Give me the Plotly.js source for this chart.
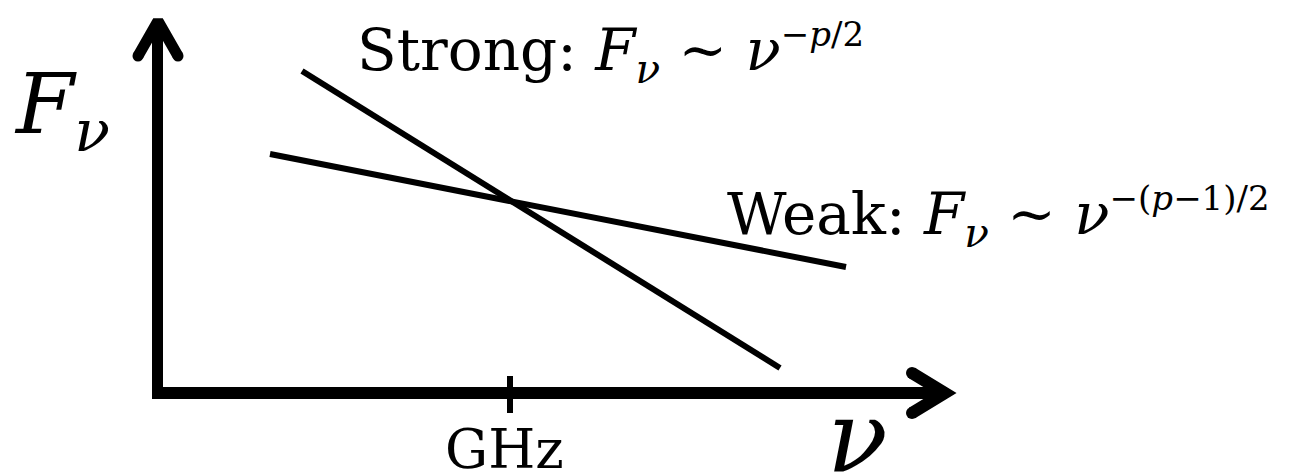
<!DOCTYPE html>
<html>
<head>
<meta charset="utf-8">
<script src="https://cdn.plot.ly/plotly-3.0.1.min.js"></script>
</head>
<body style="margin:0">
<div id="chart" style="width:1289px;height:474px"></div>
<script>
// Schematic spectrum (canvas units = page pixels, y downward)
const strongX = [302, 780];
const strongY = [71, 368];
const weakX = [270, 846];
const weakY = [154, 267];

const yAxisX = [157.5, 157.5];
const yAxisY = [399, 21];
const yHeadX = [138, 158, 178];
const yHeadY = [56, 21, 56];

const xAxisX = [152, 945];
const xAxisY = [393, 393];
const xHeadX = [912, 945, 912];
const xHeadY = [373, 393, 413];

const tickX = [510, 510];
const tickY = [376, 413];
const tickLabel = 'GHz';

const FONT = 'DejaVu Serif';
const black = '#000000';

function seg(x, y, w) {
  return {x: x, y: y, mode: 'lines', line: {color: black, width: w}, hoverinfo: 'skip', showlegend: false};
}
function caps(x, y, s) {
  return {x: x, y: y, mode: 'markers', marker: {color: black, size: s, line: {width: 0}}, hoverinfo: 'skip', showlegend: false};
}

const traces = [
  seg(yAxisX, yAxisY, 11),
  seg(yHeadX, yHeadY, 11),
  caps([yHeadX[0], yHeadX[2]], [yHeadY[0], yHeadY[2]], 11),
  seg(xAxisX, xAxisY, 12),
  seg(xHeadX, xHeadY, 12),
  caps([xHeadX[0], xHeadX[2]], [xHeadY[0], xHeadY[2]], 12),
  seg(tickX, tickY, 6),
  seg(strongX, strongY, 6),
  seg(weakX, weakY, 6)
];

const layout = {
  width: 1289, height: 474,
  margin: {l: 0, r: 0, t: 0, b: 0},
  paper_bgcolor: '#ffffff', plot_bgcolor: '#ffffff',
  xaxis: {range: [0, 1289], visible: false, fixedrange: true},
  yaxis: {range: [474, 0], visible: false, fixedrange: true},
  showlegend: false,
  annotations: [
    {x: 355, y: 53, xref: 'x', yref: 'y', xanchor: 'left', yanchor: 'middle', showarrow: false,
     font: {family: FONT, size: 58, color: black},
     text: 'Strong: <i>F</i><sub><i>ν</i></sub> ~ <i>ν</i><sup><span style="font-size:34px">−<i>p</i>/2</span></sup>'},
    {x: 725, y: 217, xref: 'x', yref: 'y', xanchor: 'left', yanchor: 'middle', showarrow: false,
     font: {family: FONT, size: 58, color: black},
     text: 'Weak: <i>F</i><sub><i>ν</i></sub> ~ <i>ν</i><sup><span style="font-size:34px">−(<i>p</i>−1)/2</span></sup>'},
    {x: 12, y: 110, xref: 'x', yref: 'y', xanchor: 'left', yanchor: 'middle', showarrow: false,
     font: {family: FONT, size: 84, color: black},
     text: '<i>F</i><sub><i>ν</i></sub>'},
    {x: 504, y: 449, xref: 'x', yref: 'y', xanchor: 'center', yanchor: 'middle', showarrow: false,
     font: {family: FONT, size: 54, color: black},
     text: tickLabel},
    {x: 857, y: 436, xref: 'x', yref: 'y', xanchor: 'center', yanchor: 'middle', showarrow: false,
     font: {family: FONT, size: 100, color: black},
     text: '<i>ν</i>'}
  ]
};

Plotly.newPlot('chart', traces, layout, {displayModeBar: false});
</script>
</body>
</html>
